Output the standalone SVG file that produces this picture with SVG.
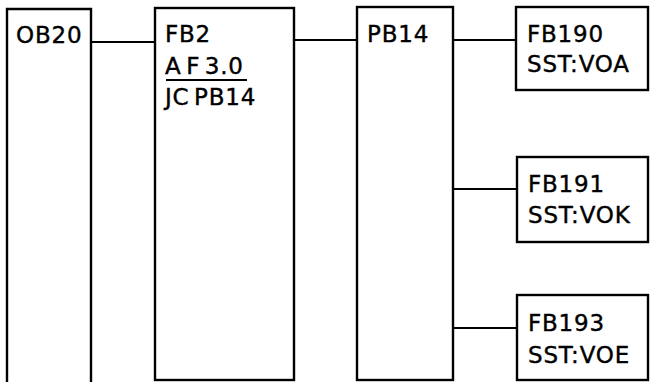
<svg xmlns="http://www.w3.org/2000/svg" width="653" height="382" viewBox="0 0 653 382">
<style>
.box{fill:none;stroke:#000;stroke-width:2.4}
.con{fill:none;stroke:#000;stroke-width:2.2}
text{font-family:"DejaVu Sans","Liberation Sans",sans-serif;font-size:23px;letter-spacing:0.8px;word-spacing:-3.5px;fill:#000;stroke:#000;stroke-width:0.4}
</style>
<rect width="653" height="382" fill="#fff"/>
<g id="connectors">
<line class="con" x1="91" y1="42" x2="155" y2="42"/>
<line class="con" x1="294" y1="40" x2="357" y2="40"/>
<line class="con" x1="453" y1="40" x2="516" y2="40"/>
<line class="con" x1="453" y1="189" x2="517" y2="189"/>
<line class="con" x1="453" y1="328" x2="517" y2="328"/>
</g>
<g id="ob20">
<path class="box" d="M7,382 V9 H91 V382"/>
<text x="16" y="43">OB20</text>
</g>
<g id="fb2">
<rect class="box" x="155" y="8" width="139" height="372"/>
<text x="165" y="42">FB2</text>
<text x="165" y="74">A F 3.0</text>
<line class="con" x1="166" y1="80" x2="247" y2="80"/>
<text x="165" y="105">JC PB14</text>
</g>
<g id="pb14">
<rect class="box" x="357" y="7" width="96" height="373"/>
<text x="367" y="42">PB14</text>
</g>
<g id="fb190">
<rect class="box" x="516" y="7" width="132" height="83"/>
<text x="527" y="42">FB190</text>
<text x="527" y="72">SST:VOA</text>
</g>
<g id="fb191">
<rect class="box" x="517" y="157" width="131" height="85"/>
<text x="528" y="192">FB191</text>
<text x="528" y="223">SST:VOK</text>
</g>
<g id="fb193">
<rect class="box" x="517" y="295" width="131" height="85"/>
<text x="528" y="331">FB193</text>
<text x="528" y="363">SST:VOE</text>
</g>
</svg>
